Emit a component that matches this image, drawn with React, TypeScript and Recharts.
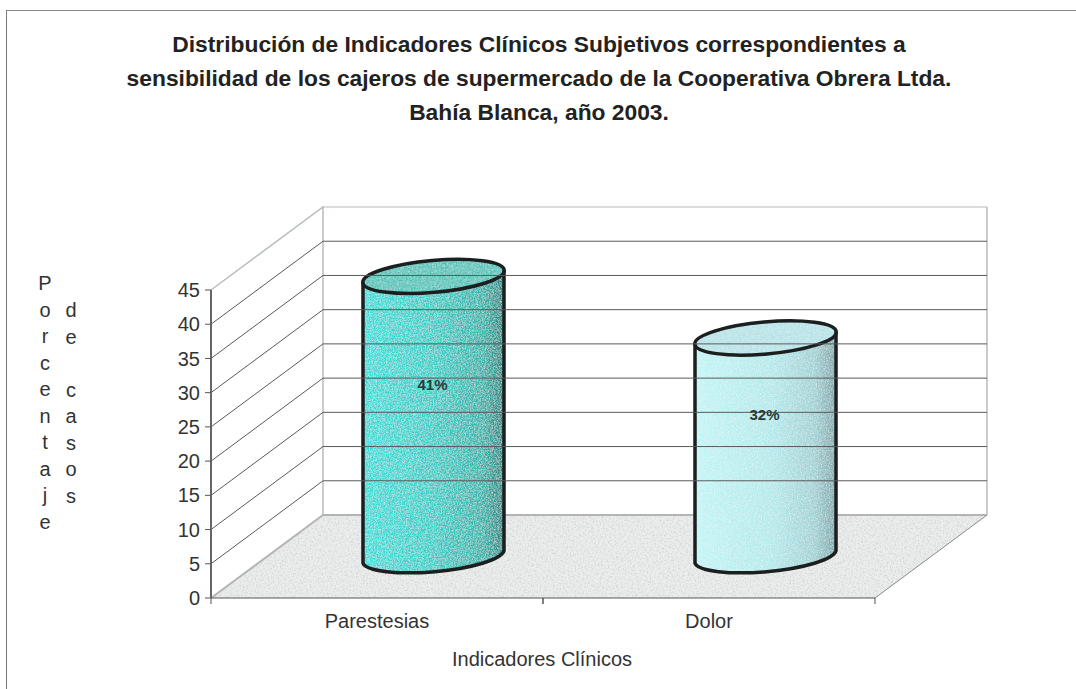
import React from "react";
import {
  ComposedChart,
  Bar,
  XAxis,
  YAxis,
  LabelList,
  ReferenceArea,
  ReferenceLine,
} from "recharts";

const categories = ["Parestesias", "Dolor"];
const porcentajes = [41, 32];
const yTicks = [0, 5, 10, 15, 20, 25, 30, 35, 40, 45];
const titleLines = [
  "Distribución de Indicadores Clínicos Subjetivos correspondientes a",
  "sensibilidad de los cajeros de supermercado de la Cooperativa Obrera Ltda.",
  "Bahía Blanca, año 2003.",
];
const yTitle1 = "Porcentaje";
const yTitle2 = "de casos";
const xTitle = "Indicadores Clínicos";

const data = categories.map((name, i) => ({ name, value: porcentajes[i] }));

const FONT = '"Liberation Sans", Arial, sans-serif';
const DX = 112; // profundidad 3D
const DY = 83;
const BAR_DX = 56;
const BAR_DY = 41;
const BAND = 332;

const FILLS = [
  { grad: "url(#gradTeal)", top: "#45c2b8" },
  { grad: "url(#gradLight)", top: "#b4e2e6" },
];

const Defs = () => (
  <defs>
    <linearGradient id="gradTeal" x1="0" x2="1" y1="0" y2="0">
      <stop offset="0" stopColor="#38dcd8" />
      <stop offset="0.5" stopColor="#36cdc6" />
      <stop offset="0.85" stopColor="#32b3ab" />
      <stop offset="1" stopColor="#278581" />
    </linearGradient>
    <linearGradient id="gradLight" x1="0" x2="1" y1="0" y2="0">
      <stop offset="0" stopColor="#c0f4f5" />
      <stop offset="0.55" stopColor="#b2e8ea" />
      <stop offset="0.85" stopColor="#9fd0d3" />
      <stop offset="1" stopColor="#7ba4a8" />
    </linearGradient>
    <filter id="grain" x="0" y="0" width="100%" height="100%">
      <feTurbulence type="fractalNoise" baseFrequency="0.75" numOctaves="2" seed="4" result="n" />
      <feColorMatrix
        in="n"
        type="matrix"
        values="0 0 0 0 1  0 0 0 0 1  0 0 0 0 1  0 0 0 1.1 -0.42"
        result="w"
      />
      <feComposite in="w" in2="SourceAlpha" operator="in" result="c" />
      <feMerge>
        <feMergeNode in="SourceGraphic" />
        <feMergeNode in="c" />
      </feMerge>
    </filter>
    <filter id="grainFloor" x="0" y="0" width="100%" height="100%">
      <feTurbulence type="fractalNoise" baseFrequency="0.6" numOctaves="2" seed="9" result="n" />
      <feColorMatrix
        in="n"
        type="matrix"
        values="0 0 0 0 0.6  0 0 0 0 0.62  0 0 0 0 0.62  0 0 0 2 -0.85"
        result="d"
      />
      <feComposite in="d" in2="SourceAlpha" operator="in" result="c" />
      <feMerge>
        <feMergeNode in="SourceGraphic" />
        <feMergeNode in="c" />
      </feMerge>
    </filter>
  </defs>
);

const Walls = (props: any) => {
  const { x, y, width, height } = props;
  const bottom = y + height;
  const right = x + width;
  return (
    <g>
      <Defs />
      <polygon
        points={`${x},${bottom} ${right},${bottom} ${right + DX},${bottom - DY} ${x + DX},${bottom - DY}`}
        fill="#eceeee"
        filter="url(#grainFloor)"
      />
      <path
        d={`M${x},${bottom} L${x + DX},${bottom - DY} H${right + DX}`}
        stroke="#b4b4b4"
        strokeWidth={2}
        fill="none"
      />
      <path
        d={`M${right},${bottom} L${right + DX},${bottom - DY}`}
        stroke="#8a8a8a"
        fill="none"
      />
      <path
        d={`M${x},${y} L${x + DX},${y - DY} V${bottom - DY} M${right + DX},${y - DY} V${bottom - DY}`}
        stroke="#b5bdb8"
        strokeWidth={1.5}
        fill="none"
      />
      <path d={`M${x + DX},${y - DY} H${right + DX}`} stroke="#b5bdb8" fill="none" />
    </g>
  );
};

const GridLine3D = (props: any) => {
  const { x1, y1, x2 } = props;
  return (
    <path
      d={`M${x1},${y1} L${x1 + DX},${y1 - DY} H${x2 + DX}`}
      stroke="#5a5a5a"
      strokeWidth={1}
      fill="none"
    />
  );
};

const Cylinder = (props: any) => {
  const { x, y, width, height, index } = props;
  const rx = width / 2 + 0.5;
  const ry = 16;
  const left = x + BAR_DX;
  const right = left + width;
  const cx = left + width / 2;
  const topY = y - BAR_DY;
  const baseY = y + height - BAR_DY;
  const tilt = 6.2;
  const arc = `A${rx},${ry} -5 0 0`;
  const fill = FILLS[index];
  return (
    <g>
      <path
        d={`M${left},${topY + tilt} V${baseY + tilt} ${arc} ${right},${baseY - tilt} V${topY - tilt} ${arc} ${left},${topY + tilt} Z`}
        fill={fill.grad}
        filter="url(#grain)"
      />
      <ellipse
        cx={cx}
        cy={topY}
        rx={rx}
        ry={ry}
        transform={`rotate(-5 ${cx} ${topY})`}
        fill={fill.top}
        filter="url(#grain)"
      />
      <path
        d={`M${left},${topY + tilt} V${baseY + tilt} ${arc} ${right},${baseY - tilt} V${topY - tilt}`}
        fill="none"
        stroke="#1c1f1f"
        strokeWidth={3.5}
      />
      <ellipse
        cx={cx}
        cy={topY}
        rx={rx}
        ry={ry}
        transform={`rotate(-5 ${cx} ${topY})`}
        fill="none"
        stroke="#1c1f1f"
        strokeWidth={3.5}
      />
    </g>
  );
};

const PercentLabel = (props: any) => {
  const { x, y, width, height, value } = props;
  return (
    <text
      x={x + width / 2 + BAR_DX - 1}
      y={y + height / 2 - 68}
      textAnchor="middle"
      fontFamily={FONT}
      fontWeight="bold"
      fontSize={15}
      fill="#2b3a3a"
    >
      {value}%
    </text>
  );
};

const CategoryTick = (props: any) => {
  const { x, y, payload } = props;
  return (
    <g>
      <path
        d={`M${x - BAND / 2},${y - 8} v6 M${x + BAND / 2},${y - 8} v6`}
        stroke="#555"
        fill="none"
      />
      <text
        x={x}
        y={y + 22}
        textAnchor="middle"
        fontFamily={FONT}
        fontSize={20}
        fill="#333"
      >
        {payload.value}
      </text>
    </g>
  );
};

const StackedWord = ({ word, x, y }: { word: string; x: number; y: number }) => (
  <text fontFamily={FONT} fontSize={20} fill="#333" textAnchor="middle">
    {word.split("").map((ch, i) => (
      <tspan key={i} x={x} y={y + i * 26.5}>
        {ch === " " ? "\u00a0" : ch}
      </tspan>
    ))}
  </text>
);

export default function App() {
  return (
    <div
      style={{
        position: "absolute",
        left: 0,
        top: 0,
        width: 1076,
        height: 689,
        background: "#fff",
        overflow: "hidden",
      }}
    >
      <div
        style={{
          position: "absolute",
          left: 6,
          top: 10,
          width: 1100,
          height: 700,
          borderLeft: "1px solid #777",
          borderTop: "1px solid #888",
        }}
      />
      <ComposedChart
        width={1076}
        height={689}
        data={data}
        margin={{ top: 290, right: 201, bottom: 51, left: 151 }}
        barSize={141}
      >
        <XAxis
          dataKey="name"
          axisLine={{ stroke: "#555" }}
          tickLine={false}
          height={40}
          tick={<CategoryTick />}
          interval={0}
        />
        <YAxis
          domain={[0, 45]}
          ticks={yTicks}
          width={60}
          interval={0}
          axisLine={{ stroke: "#666", strokeWidth: 2 }}
          tickLine={{ stroke: "#555" }}
          tickSize={6}
          tickMargin={5}
          tick={{ fontFamily: FONT, fontSize: 20, fill: "#333" }}
        />
        <ReferenceArea y1={0} y2={45} ifOverflow="visible" shape={<Walls />} />
        {yTicks.slice(1, -1).map((t) => (
          <ReferenceLine key={t} y={t} ifOverflow="visible" shape={<GridLine3D />} />
        ))}
        <Bar dataKey="value" isAnimationActive={false} shape={<Cylinder />}>
          <LabelList dataKey="value" content={<PercentLabel />} />
        </Bar>
        <text fontFamily={FONT} fontWeight="bold" fontSize={22.8} fill="#222" textAnchor="middle">
          {titleLines.map((line, i) => (
            <tspan key={i} x={539} y={[52, 86, 120][i]}>
              {line}
            </tspan>
          ))}
        </text>
        <text x={542} y={666} fontFamily={FONT} fontSize={20} fill="#333" textAnchor="middle">
          {xTitle}
        </text>
        <StackedWord word={yTitle1} x={45} y={290} />
        <StackedWord word={yTitle2} x={71} y={317} />
      </ComposedChart>
    </div>
  );
}
